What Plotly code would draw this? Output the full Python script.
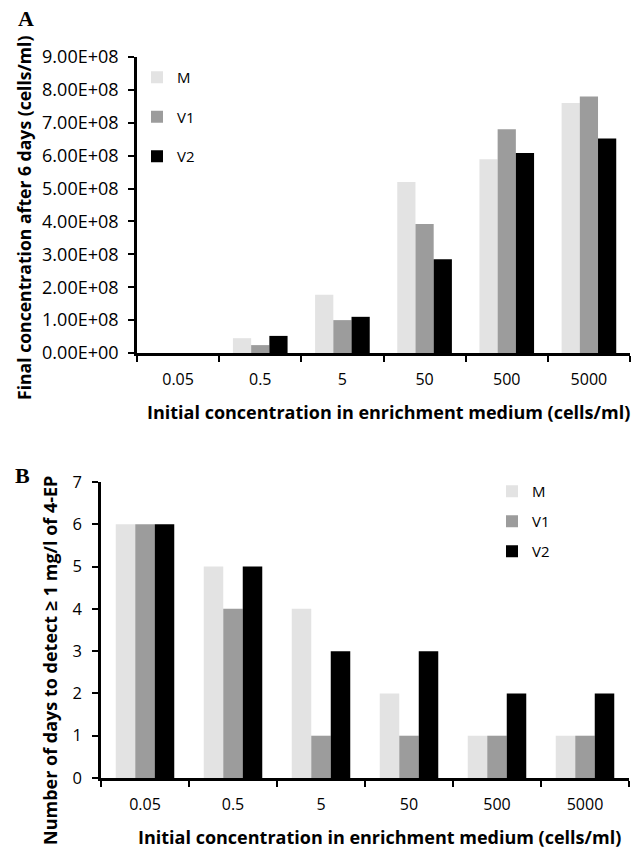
import plotly.graph_objects as go

categories = ["0.05", "0.5", "5", "50", "500", "5000"]
series_names = ["M", "V1", "V2"]

# Panel A: final concentration after 6 days (cells/ml)
final_M = [0, 4.5e7, 1.77e8, 5.2e8, 5.89e8, 7.6e8]
final_V1 = [0, 2.4e7, 1.0e8, 3.92e8, 6.8e8, 7.8e8]
final_V2 = [0, 5.2e7, 1.1e8, 2.85e8, 6.08e8, 6.52e8]

# Panel B: number of days to detect >= 1 mg/l of 4-EP
days_M = [6, 5, 4, 2, 1, 1]
days_V1 = [6, 4, 1, 1, 1, 1]
days_V2 = [6, 5, 3, 3, 2, 2]

a_tickvals = [0, 1e8, 2e8, 3e8, 4e8, 5e8, 6e8, 7e8, 8e8, 9e8]
a_ticktext = ["0.00E+00", "1.00E+08", "2.00E+08", "3.00E+08", "4.00E+08",
              "5.00E+08", "6.00E+08", "7.00E+08", "8.00E+08", "9.00E+08"]
b_tickvals = [0, 1, 2, 3, 4, 5, 6, 7]

colors = ["#e3e3e3", "#9c9c9c", "#000000"]

W, H = 635, 848
FONT = "Open Sans"

fig = go.Figure()

for name, vals, col in zip(series_names, [final_M, final_V1, final_V2], colors):
    fig.add_trace(go.Bar(x=categories, y=vals, name=name, marker_color=col,
                         marker_line_width=0, xaxis="x", yaxis="y",
                         legend="legend", legendgroup="A" + name))
for name, vals, col in zip(series_names, [days_M, days_V1, days_V2], colors):
    fig.add_trace(go.Bar(x=categories, y=vals, name=name, marker_color=col,
                         marker_line_width=0, xaxis="x2", yaxis="y2",
                         legend="legend2", legendgroup="B" + name))

def px_x(p):
    return p / W

def px_y(p):
    return 1 - p / H

axis_common = dict(showline=True, linecolor="black", showgrid=False, zeroline=False,
                   ticks="outside", tickcolor="black", tickwidth=2, ticklen=6)
xtick_font = dict(family=FONT, size=16, color="black")
ytick_font_a = dict(family=FONT, size=18, color="black")
ytick_font_b = dict(family=FONT, size=16.5, color="black")

fig.update_layout(
    width=W, height=H,
    margin=dict(l=0, r=0, t=0, b=0),
    paper_bgcolor="white", plot_bgcolor="white",
    barmode="group", bargap=0.335, bargroupgap=0,
    font=dict(family=FONT, size=15, color="black"),
    xaxis=dict(domain=[px_x(137), px_x(630)], anchor="y", type="category",
               tickson="boundaries", range=[-0.5, 5.5], linewidth=2.7,
               ticklabelstandoff=10, automargin=False, tickfont=xtick_font, **axis_common),
    yaxis=dict(domain=[px_y(353), px_y(57)], anchor="x", range=[0, 9e8],
               tickvals=a_tickvals, ticktext=a_ticktext, linewidth=2.7,
               ticklabelstandoff=6, automargin=False, tickfont=ytick_font_a, **axis_common),
    xaxis2=dict(domain=[px_x(101), px_x(629)], anchor="y2", type="category",
                tickson="boundaries", range=[-0.5, 5.5], linewidth=2.7,
                ticklabelstandoff=10, automargin=False, tickfont=xtick_font, **axis_common),
    yaxis2=dict(domain=[px_y(778), px_y(482)], anchor="x2", range=[0, 7],
                tickvals=b_tickvals, linewidth=2.7, ticklabelstandoff=7,
                automargin=False, tickfont=ytick_font_b, **axis_common),
    legend=dict(x=px_x(137), y=px_y(61), xanchor="left", yanchor="top",
                bgcolor="rgba(0,0,0,0)", tracegroupgap=17,
                font=dict(family=FONT, size=15, color="black")),
    legend2=dict(x=px_x(492), y=px_y(475), xanchor="left", yanchor="top",
                 bgcolor="rgba(0,0,0,0)", tracegroupgap=7.5,
                 font=dict(family=FONT, size=15, color="black")),
    showlegend=True,
)

def title_font(size):
    return dict(family=FONT, size=size, color="black", weight="bold")

common_ann = dict(xref="paper", yref="paper", showarrow=False,
                  xanchor="center", yanchor="middle")
annotations = [
    dict(text="A", x=px_x(26), y=px_y(19),
         font=dict(family="Liberation Serif", size=22, color="black", weight="bold"), **common_ann),
    dict(text="B", x=px_x(22), y=px_y(475),
         font=dict(family="Liberation Serif", size=22, color="black", weight="bold"), **common_ann),
    dict(text="Final concentration after 6 days (cells/ml)", x=px_x(24), y=px_y(218),
         textangle=-90, font=title_font(17.6), **common_ann),
    dict(text="Initial concentration in enrichment medium (cells/ml)", x=px_x(388), y=px_y(412),
         font=title_font(18), **common_ann),
    dict(text="Number of days to detect ≥ 1 mg/l of 4-EP", x=px_x(50), y=px_y(661),
         textangle=-90, font=title_font(18), **common_ann),
    dict(text="Initial concentration in enrichment medium (cells/ml)", x=px_x(379), y=px_y(837),
         font=title_font(18), **common_ann),
]
fig.update_layout(annotations=annotations)

fig.write_html("out.html")
